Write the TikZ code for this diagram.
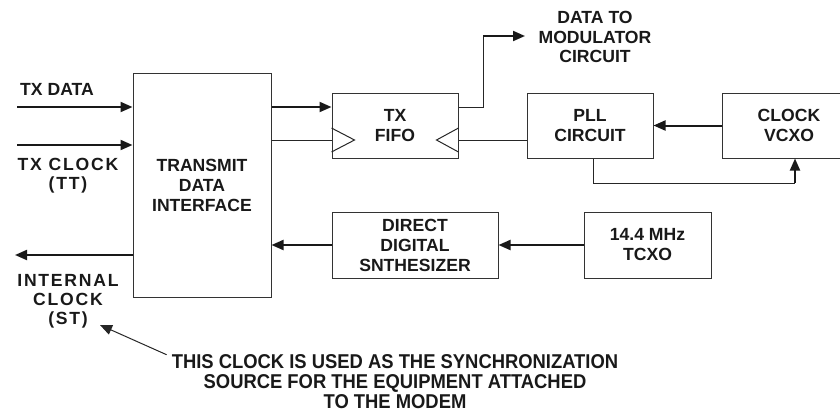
\documentclass[tikz,border=0pt]{standalone}
\usepackage{fontspec}
\setmainfont{Liberation Sans}
\newfontfamily\notefont[FakeStretch=0.92]{Liberation Sans}
\usetikzlibrary{arrows.meta}

\begin{document}
\begin{tikzpicture}[x=1pt, y=-1pt, >={Triangle[length=12pt, width=10pt]},
		blk/.style={draw=black!80, line width=1pt, inner sep=0pt, align=center, text=black!90,
			font=\bfseries\fontsize{17.6}{20}\selectfont},
		lbl/.style={inner sep=0pt, align=center, text=black!90,
			font=\bfseries\fontsize{17.6}{19.5}\selectfont},
		spaced/.style={lbl, font=\bfseries\fontsize{17.6}{19}\selectfont\addfontfeatures{LetterSpace=10}},
		note/.style={inner sep=0pt, align=center, text=black!90,
			font=\notefont\bfseries\fontsize{20}{20}\selectfont},
		arr/.style={->, line width=2pt, black!90},
		wire/.style={line width=1pt, black!85}]
	\useasboundingbox (0,0) rectangle (840,413);
	\clip (0,0) rectangle (840,413);

	% ==== 方框 ====
	\node[blk, minimum width=138pt, minimum height=224pt] (tdi) at (202,185) {TRANSMIT\\DATA\\INTERFACE};
	\node[blk, minimum width=126pt, minimum height=65pt] (fifo) at (395,125.5) {TX\\FIFO};
	\node[blk, minimum width=126pt, minimum height=65pt] (pll) at (590,125.5) {PLL\\CIRCUIT};
	\node[blk, minimum width=134pt, minimum height=65pt] (vcxo) at (789,125.5) {CLOCK\\VCXO};
	\node[blk, minimum width=166pt, minimum height=66pt] (dds) at (415,245) {DIRECT\\DIGITAL\\SNTHESIZER};
	\node[blk, minimum width=127pt, minimum height=66pt] (tcxo) at (647.5,245) {14.4 MHz\\TCXO};

	% ==== 标号 ====
	\node[lbl] (txdata) at (57,89) {TX DATA};
	\node[spaced] (txclock) at (68,176) {TX CLOCK\\(TT)};
	\node[spaced] (intclock) at (68,301) {INTERNAL\\CLOCK\\(ST)};
	\node[lbl] (modlbl) at (595,37) {DATA TO\\MODULATOR\\CIRCUIT};
	\node[note] (note) at (395,382) {THIS CLOCK IS USED AS THE SYNCHRONIZATION\\SOURCE FOR THE EQUIPMENT ATTACHED\\TO THE MODEM};

	% 辅助点
	\coordinate (dataIn) at (17,107);
	\coordinate (clkIn) at (17,145);
	\coordinate (stOut) at (15,255);
	\coordinate (clkRow) at (0,140);
	\coordinate (bend) at (483,36);
	\coordinate (modTip) at (525,36);
	\coordinate (loopCorner) at (795,183);
	\coordinate (noteTip) at (100,325);

	% ==== 左侧输入输出 ====
	\draw[arr] (dataIn) -- (dataIn -| tdi.west);
	\draw[arr] (clkIn) -- (clkIn -| tdi.west);
	\draw[arr] (stOut -| tdi.west) -- (stOut);

	% ==== 发送 FIFO ====
	\draw[arr] (dataIn -| tdi.east) -- (dataIn -| fifo.west);
	\draw[wire] (tdi.east |- clkRow) -- (fifo.west |- clkRow);
	\draw[wire] (pll.west |- clkRow) -- (fifo.east |- clkRow);
	\draw[wire] (fifo.west |- clkRow) ++(0,-12) -- ++(23,12) -- ++(-23,12);
	\draw[wire] (fifo.east |- clkRow) ++(0,-12) -- ++(-22,12) -- ++(22,12);
	\draw[wire] (fifo.east |- dataIn) -- (bend |- dataIn) -- (bend);
	\draw[arr] (bend) -- (modTip);

	% ==== 锁相环 ====
	\draw[arr] (vcxo.west) -- (pll.east);
	\draw[wire] ([xshift=3pt]pll.south) |- (loopCorner);
	\draw[arr] (loopCorner) -- (loopCorner |- vcxo.south);

	% ==== 合成器 ====
	\draw[arr] (tcxo.west) -- (dds.east);
	\draw[arr] (dds.west) -- (dds.west -| tdi.east);

	% 说明
	\draw[wire, ->] ([xshift=-5pt]note.north west) -- (noteTip);
\end{tikzpicture}
\end{document}
